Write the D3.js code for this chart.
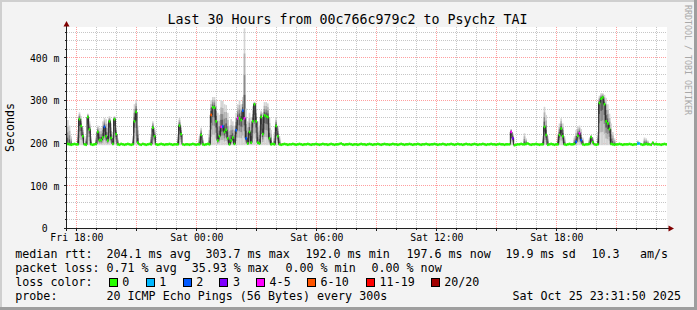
<!DOCTYPE html>
<html><head><meta charset="utf-8">
<script src="https://cdn.jsdelivr.net/npm/d3@7"></script>
<style>
html,body{margin:0;padding:0;background:#f3f3f3}
svg{display:block}
text{font-family:"DejaVu Sans Mono",monospace;fill:#000}
</style></head>
<body><svg id="c" width="697" height="310"></svg>
<script>
// ---------------- data ----------------
const title = "Last 30 Hours from 00c766c979c2 to Psychz TAI";
const yAxisTitle = "Seconds";
const watermark = "RRDTOOL / TOBI OETIKER";
const startTime = "2025-10-24 17:31:50";
const endTime = "2025-10-25 23:31:50";
const stepMinutes = 5;

const yTicks = [0, 100, 200, 300, 400];               // ms
const yTickLabels = ["0", "100 m", "200 m", "300 m", "400 m"];
const xTicks = ["2025-10-24 18:00:00", "2025-10-25 00:00:00", "2025-10-25 06:00:00", "2025-10-25 12:00:00", "2025-10-25 18:00:00"];
const xTickLabels = ["Fri 18:00", "Sat 00:00", "Sat 06:00", "Sat 12:00", "Sat 18:00"];

// median rtt (ms), one value per 5-minute step (360 steps)
const median = [
  197,196,195,196,197,196,196,255,239,215,196,195,260,231,196,195,196,197,225,206,206,212,237,215,
  205,250,211,197,255,220,196,195,197,196,195,196,197,196,195,196,250,272,200,196,195,197,196,195,
  196,197,196,235,215,196,195,196,197,196,195,196,196,197,196,195,196,196,196,240,220,196,195,196,
  196,195,196,197,196,195,196,196,218,196,195,196,197,196,265,283,282,250,205,215,237,238,225,230,
  210,196,205,212,197,229,257,257,253,275,257,210,198,225,200,250,290,250,200,198,260,220,264,262,
  260,210,196,197,196,239,215,196,195,196,197,196,195,196,196,197,196,195,196,197,196,195,196,196,
  197,196,195,196,196,197,196,195,196,197,196,196,195,196,197,196,195,196,196,197,198,196,195,196,
  196,197,196,195,196,196,195,196,197,196,196,195,196,197,196,195,196,196,197,196,195,196,197,196,
  196,195,196,197,196,196,195,196,197,196,195,196,196,197,196,195,196,196,197,196,195,196,196,197,
  196,195,196,196,197,196,195,196,196,197,196,195,196,196,197,196,195,196,197,196,196,195,196,197,
  196,196,195,196,197,196,195,196,196,197,196,195,196,196,197,196,196,195,196,197,196,196,195,196,
  196,196,225,210,194,195,196,196,197,196,196,197,198,196,195,196,196,197,196,195,196,196,237,218,
  195,196,197,196,195,196,196,218,233,215,196,195,196,197,196,196,197,202,216,222,206,196,195,196,
  196,197,213,201,196,195,196,293,303,306,290,250,245,232,197,196,195,196,196,197,196,195,196,196,
  196,197,196,195,196,196,198,198,196,195,196,197,196,196,195,200,196,197,196,196,195,196,197,196
];

// smoke: [step, lowest ping ms, highest ping ms] where the spread is visible
const smoke = [
  [0,194,253],[1,194,240],[2,194,215],
  [6,194,230],[7,194,271],[8,194,262],[9,194,235],
  [11,194,215],[12,194,268],[13,194,250],[14,194,215],
  [17,194,215],[18,194,240],[19,194,235],[20,194,235],[21,194,250],[22,194,258],[23,194,255],
  [24,194,245],[25,194,262],[26,194,245],[27,194,225],[28,194,262],[29,194,240],[30,194,210],
  [39,194,215],[40,194,290],[41,194,300],[42,194,240],
  [50,194,220],[51,194,250],[52,194,235],
  [66,194,220],[67,194,258],[68,194,240],
  [79,194,215],[80,194,235],[81,194,210],
  [85,194,230],[86,194,300],[87,194,307],[88,194,307],[89,194,300],[90,194,270],[91,194,265],
  [92,194,300],[93,194,298],[94,194,290],[95,194,288],[96,194,270],[97,194,240],[98,194,255],
  [99,194,250],[100,194,240],[101,194,270],[102,194,290],[103,194,300],[104,194,290],[105,194,307],
  [106,194,468],[107,194,280],[108,194,250],[109,194,270],[110,194,260],[111,194,285],[112,194,296],
  [113,194,290],[114,194,250],[115,194,240],[116,194,275],[117,194,270],[118,194,295],[119,194,295],
  [120,194,292],[121,194,260],[122,194,230],[124,194,225],[125,194,258],[126,194,240],[127,194,215],
  [266,194,232],[267,194,222],[274,194,222],[275,194,210],
  [285,194,215],[286,194,284],[287,194,265],[288,194,215],
  [294,194,220],[295,194,245],[296,194,257],[297,194,245],[298,194,215],
  [304,194,215],[305,194,230],[306,194,238],[307,194,240],[308,194,232],[309,194,212],
  [313,194,210],[314,194,218],[315,194,212],
  [318,194,225],[319,194,310],[320,194,316],[321,194,316],[322,194,312],[323,194,305],[324,194,290],
  [325,194,268],[326,194,245],[327,194,225],[328,194,210],
  [342,194,205],[346,194,212],[347,194,210],[348,194,205]
];

// packet loss: [step, lost pings out of 20]; all other steps lost 0
const lossSteps = [
  [22,2],[86,7],[92,4],[93,2],[101,2],[102,4],[105,2],[106,4],[107,2],
  [266,4],[267,3],[305,2],[307,4],[308,2],[342,1],[343,1]
];

const lossLabels = ["0", "1", "2", "3", "4-5", "6-10", "11-19", "20/20"];
const lossColors = ["#26ff00", "#00b8ff", "#0059ff", "#7e00ff", "#ff00ff", "#ff5500", "#ff0000", "#a10000"];

const rttLabel = "median rtt:";
const rttStats = ["204.1 ms avg", "303.7 ms max", "192.0 ms min", "197.6 ms now", "19.9 ms sd", "10.3", "am/s"];
const lossLabel = "packet loss:";
const lossStats = ["0.71 % avg", "35.93 % max", "0.00 % min", "0.00 % now"];
const colorLabel = "loss color:";
const probeLabel = "probe:";
const probeText = "20 ICMP Echo Pings (56 Bytes) every 300s";
const stampText = "Sat Oct 25 23:31:50 2025";

// ---------------- layout ----------------
const W = 697, H = 310;
const L = 67, R = 667, T = 27, B = 228;
const parse = d3.timeParse("%Y-%m-%d %H:%M:%S");
const t0 = parse(startTime), t1 = parse(endTime);
const x = d3.scaleTime().domain([t0, t1]).range([L, R]);
const y = d3.scaleLinear().domain([0, 471]).range([B, T]);
const stepX = i => x(d3.timeMinute.offset(t0, i * stepMinutes));

const svg = d3.select("#c");
svg.append("rect").attr("width", W).attr("height", H).attr("fill", "#f3f3f3");
svg.append("path").attr("d", `M0,0H${W}V2H2V${H}H0Z`).attr("fill", "#cfcfcf");
svg.append("path").attr("d", `M${W},${H}H0V${H-3}H${W-3}V0H${W}Z`).attr("fill", "#9e9e9e");

// canvas
svg.append("rect").attr("x", L).attr("y", T).attr("width", R - L).attr("height", B - T).attr("fill", "#fff");

const minorC = "rgba(128,128,128,0.45)", majorC = "rgba(255,0,0,0.38)";
const grid = svg.append("g");
// vertical grid
d3.timeHour.range(t0, t1).forEach(h => {
  const major = h.getHours() % 3 === 0;
  const px = Math.round(x(h)) + 0.5;
  grid.append("line").attr("x1", px).attr("x2", px).attr("y1", T).attr("y2", B)
    .attr("stroke", major ? majorC : minorC).attr("stroke-dasharray", "1,1");
  grid.append("line").attr("x1", px).attr("x2", px).attr("y1", B).attr("y2", B + (major ? 3 : 2))
    .attr("stroke", "#202020");
});
// horizontal grid
d3.range(20, 471, 20).forEach(v => {
  const major = v % 100 === 0;
  const py = Math.round(y(v)) + 0.5;
  grid.append("line").attr("x1", L).attr("x2", R).attr("y1", py).attr("y2", py)
    .attr("stroke", major ? majorC : minorC).attr("stroke-dasharray", "1,1");
  grid.append("line").attr("x1", L - (major ? 3 : 2)).attr("x2", L).attr("y1", py).attr("y2", py)
    .attr("stroke", "#202020");
});

// smoke
const shades = [["#d4d4d4", 1], ["#b4b4b4", 0.72], ["#8c8c8c", 0.48], ["#5e5e5e", 0.26]];
const smokeG = svg.append("g");
smoke.forEach(([i, lo, hi]) => {
  const m = median[i];
  const x0 = stepX(i), x1 = stepX(i + 1);
  shades.forEach(([c, f]) => {
    const top = m + (hi - m) * f, bot = m - (m - lo) * f;
    smokeG.append("rect").attr("x", x0).attr("width", x1 - x0)
      .attr("y", y(top)).attr("height", Math.max(0, y(bot) - y(top))).attr("fill", c);
  });
});

// median black line
const pts = median.map((v, i) => [stepX(i), y(v)]);
pts.push([stepX(median.length), y(median[median.length - 1])]);
svg.append("path").attr("d", d3.line().curve(d3.curveStepAfter)(pts))
  .attr("fill", "none").attr("stroke", "#202020").attr("stroke-width", 1);

// median coloured by loss
const lossMap = new Map(lossSteps);
const binOf = n => n <= 3 ? n : n <= 5 ? 4 : n <= 10 ? 5 : n < 20 ? 6 : 7;
svg.append("g").selectAll("rect").data(median).join("rect")
  .attr("x", (d, i) => stepX(i)).attr("width", (d, i) => stepX(i + 1) - stepX(i))
  .attr("y", d => y(d) - 1.3).attr("height", 2.6)
  .attr("fill", (d, i) => lossColors[binOf(lossMap.get(i) || 0)]);

// axes lines + arrows
svg.append("line").attr("x1", L - 0.5).attr("x2", L - 0.5).attr("y1", B + 3).attr("y2", T - 2).attr("stroke", "#202020");
svg.append("line").attr("x1", L - 3).attr("x2", R + 3).attr("y1", B + 0.5).attr("y2", B + 0.5).attr("stroke", "#202020");
svg.append("path").attr("d", `M${L-0.5},${T-6}L${L-3.5},${T-0.5}L${L+2.5},${T-0.5}Z`).attr("fill", "#800000");
svg.append("path").attr("d", `M${R+7},${B+0.5}L${R+1.5},${B-2.5}L${R+1.5},${B+3.5}Z`).attr("fill", "#800000");

// axis labels through d3 axes
const axFont = 9.8, axChar = axFont * 0.602;
const xa = svg.append("g").attr("transform", `translate(0,${B})`)
  .call(d3.axisBottom(x).tickValues(xTicks.map(parse)).tickFormat((d, i) => xTickLabels[i]).tickSize(0));
xa.select(".domain").remove();
xa.selectAll("text").attr("y", 13).attr("dy", null)
  .style("font-family", "'DejaVu Sans Mono',monospace").style("font-size", axFont + "px").attr("fill", "#000");

const ya = svg.append("g").attr("transform", `translate(59.4,0)`)
  .call(d3.axisLeft(y).tickValues(yTicks).tickFormat((d, i) => yTickLabels[i]).tickSize(0).tickPadding(0));
ya.select(".domain").remove();
ya.selectAll("text").attr("dy", null).attr("y", 3.8)
  .attr("x", (d, i) => yTickLabels[i].length < 5 ? -2 * axChar : 0)
  .style("font-family", "'DejaVu Sans Mono',monospace").style("font-size", axFont + "px").attr("fill", "#000");

// title, y title, watermark
svg.append("text").attr("x", 347.5).attr("y", 24).attr("text-anchor", "middle")
  .style("font-size", "13.3px").text(title);
svg.append("text").attr("transform", "translate(14.3,127.5) rotate(-90)").attr("text-anchor", "middle")
  .style("font-size", "11.6px").text(yAxisTitle);
svg.append("text").attr("transform", "translate(685,5) rotate(90)")
  .style("font-size", "8.3px").style("fill", "#a8a8a8").text(watermark);

// legend
const fs = "11.67px";
const rowY = [258, 272, 286, 300];
const leg = svg.append("g").style("font-size", fs);
const put = (tx, px, py) => leg.append("text").attr("x", px).attr("y", py).text(tx);
const rttX = [106.5, 205.5, 305.5, 406.5, 505.5, 591.5, 640];
put(rttLabel, 15.3, rowY[0]);
rttStats.forEach((s, k) => put(s, rttX[k], rowY[0]));
const lossX = [106.5, 191.7, 285.5, 371.5];
put(lossLabel, 15.3, rowY[1]);
lossStats.forEach((s, k) => put(s, lossX[k], rowY[1]));
put(colorLabel, 15.3, rowY[2]);
const boxX = [108.5, 145.5, 182.5, 219.3, 255.8, 306.8, 365.8, 430.5];
lossLabels.forEach((s, k) => {
  leg.append("rect").attr("x", Math.round(boxX[k]) + 0.5).attr("y", 278.5).attr("width", 8).attr("height", 8)
    .attr("fill", lossColors[k]).attr("stroke", "#000").attr("stroke-width", 1);
  put(s, boxX[k] + 13.8, rowY[2]);
});
put(probeLabel, 15.3, rowY[3]);
put(probeText, 106.5, rowY[3]);
put(stampText, 512.5, rowY[3]);
</script>
</body></html>
